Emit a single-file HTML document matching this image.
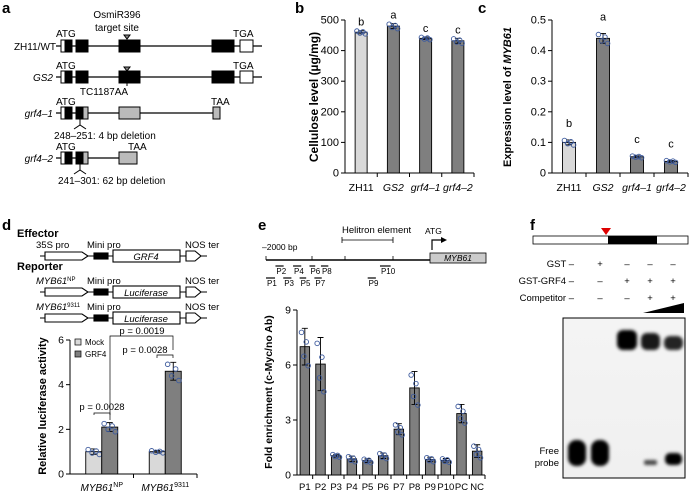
<!DOCTYPE html>
<html><head><meta charset="utf-8"><style>
body{margin:0;background:#fff}
svg{display:block;font-family:"Liberation Sans",sans-serif}
</style></head><body>
<svg id="s" width="689" height="495" viewBox="0 0 689 495">
<defs>
<linearGradient id="gel" x1="0" x2="0" y1="0" y2="1"><stop offset="0" stop-color="#f4f4f4"/><stop offset="1" stop-color="#f0f0f0"/></linearGradient>
<filter id="blur"><feGaussianBlur stdDeviation="1.6"/></filter>
</defs>
<g font-weight="bold" font-size="15">
<text x="2" y="13">a</text>
<text x="295" y="13">b</text>
<text x="478" y="13">c</text>
<text x="2" y="230">d</text>
<text x="258" y="230">e</text>
<text x="530" y="230">f</text>
</g>
<!-- panel a -->
<g font-size="10" stroke="#000">
<g stroke="none">
<text x="117" y="18" text-anchor="middle">OsmiR396</text>
<text x="117" y="31" text-anchor="middle">target site</text>
<text x="56" y="37">ATG</text><text x="233" y="37">TGA</text>
<text x="56" y="69">ATG</text><text x="233" y="69">TGA</text>
<text x="56" y="105">ATG</text><text x="211" y="105">TAA</text>
<text x="56" y="150">ATG</text><text x="128" y="150">TAA</text>
<text x="56" y="50" text-anchor="end">ZH11/WT</text>
<text x="53" y="81" text-anchor="end" font-style="italic">GS2</text>
<text x="53" y="117" text-anchor="end" font-style="italic">grf4–1</text>
<text x="53" y="162" text-anchor="end" font-style="italic">grf4–2</text>
<text x="104" y="95" text-anchor="middle">TC1187AA</text>
<text x="54" y="139">248–251: 4 bp deletion</text>
<text x="58" y="184">241–301: 62 bp deletion</text>
</g>
<g stroke-width="1.2">
<line x1="56" y1="46" x2="262" y2="46"/><line x1="56" y1="77" x2="262" y2="77"/>
<line x1="56" y1="113" x2="220" y2="113"/><line x1="56" y1="158" x2="137" y2="158"/>
</g>
<g stroke-width="1">
<rect x="61" y="40" width="4" height="12" fill="#fff"/><rect x="65" y="40" width="7" height="12"/><rect x="76" y="40" width="12" height="12"/><rect x="119" y="40" width="21" height="12"/><rect x="212" y="40" width="22" height="12"/><rect x="240" y="40" width="13" height="12" fill="#fff"/>
<rect x="61" y="71" width="4" height="12" fill="#fff"/><rect x="65" y="71" width="7" height="12"/><rect x="76" y="71" width="12" height="12"/><rect x="119" y="71" width="21" height="12"/><rect x="212" y="71" width="22" height="12"/><rect x="240" y="71" width="13" height="12" fill="#fff"/>
<rect x="61" y="107" width="4" height="12" fill="#fff"/><rect x="65" y="107" width="7" height="12"/><rect x="76" y="107" width="7" height="12"/><rect x="83" y="107" width="5" height="12" fill="#bbb"/><rect x="119" y="107" width="21" height="12" fill="#bbb"/><rect x="213" y="107" width="7" height="12" fill="#bbb"/>
<rect x="61" y="152" width="4" height="12" fill="#fff"/><rect x="65" y="152" width="7" height="12"/><rect x="76" y="152" width="7" height="12"/><rect x="83" y="152" width="5" height="12" fill="#bbb"/><rect x="119" y="152" width="18" height="12" fill="#bbb"/>
<polygon points="124,35 130,35 127,39" fill="#888"/><polygon points="124,67 130,67 127,71" fill="#888"/><line x1="127" y1="71" x2="127" y2="86"/>
<path d="M80,119 V125 M74,129 L80,125 L86,129 M80,164 V170 M74,174 L80,170 L86,174" fill="none"/>
</g></g>
<!-- panel d diagrams -->
<g font-size="9.5" stroke="#000">
<g stroke="none">
<text x="17" y="237" font-weight="bold" font-size="11">Effector</text>
<text x="36" y="248">35S pro</text><text x="87" y="248">Mini pro</text><text x="185" y="248">NOS ter</text>
<text x="17" y="270" font-weight="bold" font-size="11">Reporter</text>
<text x="36" y="284" font-style="italic">MYB61<tspan font-size="6" dy="-3" font-style="normal">NP</tspan></text><text x="87" y="284">Mini pro</text><text x="185" y="284">NOS ter</text>
<text x="36" y="310" font-style="italic">MYB61<tspan font-size="6" dy="-3" font-style="normal">9311</tspan></text><text x="87" y="310">Mini pro</text><text x="185" y="310">NOS ter</text>
</g>
<g stroke-width="1.1" fill="#fff">
<line x1="40" y1="256" x2="207" y2="256"/><line x1="40" y1="292" x2="207" y2="292"/><line x1="40" y1="318" x2="207" y2="318"/>
<polygon points="45,252 82,252 88,256 82,260 45,260"/><rect x="94" y="253" width="14" height="6" fill="#000"/><rect x="113" y="250" width="67" height="12"/><polygon points="186,251 195,251 201,256 195,261 186,261"/>
<polygon points="45,288 82,288 88,292 82,296 45,296"/><rect x="94" y="289" width="14" height="6" fill="#000"/><rect x="113" y="286" width="67" height="12"/><polygon points="186,287 195,287 201,292 195,297 186,297"/>
<polygon points="45,314 82,314 88,318 82,322 45,322"/><rect x="94" y="315" width="14" height="6" fill="#000"/><rect x="113" y="312" width="67" height="12"/><polygon points="186,313 195,313 201,318 195,323 186,323"/>
</g>
<g stroke="none" font-style="italic" text-anchor="middle"><text x="146" y="260">GRF4</text><text x="146" y="296">Luciferase</text><text x="146" y="322">Luciferase</text></g>
</g>
<!-- panel e diagram -->
<g font-size="8.5" stroke="#000">
<line x1="266" y1="260" x2="430" y2="260" stroke-width="1.5"/>
<path d="M266,260 v-4 M312,260 v-4 M345,260 v-4 M393,260 v-4 M342,240 H393 M342,237 v6 M393,237 v6" stroke-width="0.8" fill="none"/>
<path d="M432,250 V240 H442" fill="none" stroke-width="1.2"/><polygon points="441,237 447,240 441,243" stroke="none"/>
<rect x="430" y="253" width="56" height="10" fill="#ccc" stroke-width="0.8"/>
<g stroke="none"><text x="262" y="250">–2000 bp</text><text x="342" y="233" font-size="9.5">Helitron element</text><text x="425" y="234">ATG</text><text x="458" y="261" text-anchor="middle" font-style="italic">MYB61</text></g>
<g id="primers" stroke-width="1.2"></g>
</g>
<!-- panel f -->
<g font-size="9.5">
<rect x="533" y="236" width="155" height="8" fill="#fff" stroke="#000" stroke-width="0.8"/><rect x="608" y="236" width="49" height="8" fill="#000"/>
<polygon points="601,228 611,228 606,235" fill="#d00"/>
<text x="574" y="267" text-anchor="end">GST –</text><text x="574" y="284" text-anchor="end">GST-GRF4 –</text><text x="574" y="301" text-anchor="end">Competitor –</text>
<g text-anchor="middle">
<text x="600" y="267">+</text><text x="627" y="267">–</text><text x="650" y="267">–</text><text x="673" y="267">–</text>
<text x="600" y="284">–</text><text x="627" y="284">+</text><text x="650" y="284">+</text><text x="673" y="284">+</text>
<text x="600" y="301">–</text><text x="627" y="301">–</text><text x="650" y="301">+</text><text x="673" y="301">+</text>
</g>
<polygon points="643,313 684,303 684,313" fill="#000"/>
<rect x="563" y="318" width="122" height="160" fill="url(#gel)" stroke="#000" stroke-width="1"/>
<g filter="url(#blur)" fill="#000">
<rect x="568" y="440" width="18" height="26" rx="8"/><rect x="591" y="440" width="18" height="26" rx="8"/>
<rect x="617" y="330" width="20" height="20" rx="6"/><rect x="641" y="333" width="19" height="17" rx="6" opacity="0.9"/><rect x="664" y="336" width="19" height="14" rx="6" opacity="0.85"/>
<rect x="644" y="460" width="13" height="5" rx="2" opacity="0.7"/><rect x="665" y="453" width="17" height="12" rx="5"/>
</g>
<text x="559" y="454" text-anchor="end">Free</text><text x="559" y="466" text-anchor="end">probe</text>
</g>
<g id="charts"></g>
</svg>
<script>
// data
const bCats=["ZH11","GS2","grf4–1","grf4–2"];
const bVals=[460,480,440,432];
const bErr=[5,8,4,8];
const bLetters=["b","a","c","c"];
const bTicks=[0,100,200,300,400,500];
const cCats=["ZH11","GS2","grf4–1","grf4–2"];
const cVals=[0.10,0.44,0.053,0.038];
const cErr=[0.008,0.016,0.003,0.003];
const cLetters=["b","a","c","c"];
const cTicks=[0,0.1,0.2,0.3,0.4,0.5];
const dCats=["MYB61NP","MYB619311"];
const dMock=[1.0,1.0];
const dGrf4=[2.1,4.6];
const dMockErr=[0.12,0.05];
const dGrf4Err=[0.2,0.4];
const dTicks=[0,2,4,6];
const eCats=["P1","P2","P3","P4","P5","P6","P7","P8","P9","P10","PC","NC"];
const eVals=[7.0,6.05,1.05,0.88,0.78,1.05,2.5,4.75,0.85,0.8,3.35,1.3];
const eErr=[1.0,1.45,0.08,0.15,0.1,0.15,0.3,0.9,0.12,0.1,0.5,0.35];
const eTicks=[0,3,6,9];
const primerNames=["P1","P2","P3","P4","P5","P6","P7","P8","P9","P10"];
const primerStart=[-2000,-1885,-1790,-1670,-1590,-1470,-1410,-1330,-760,-610];
const primerEnd=[-1890,-1785,-1690,-1570,-1510,-1400,-1320,-1240,-660,-480];

const NS="http://www.w3.org/2000/svg";
const root=document.getElementById('charts');
function el(tag,attrs,parent,text){const e=document.createElementNS(NS,tag);for(const k in attrs)e.setAttribute(k,attrs[k]);if(text!==undefined)e.textContent=text;(parent||root).appendChild(e);return e;}

// primers
const pg=document.getElementById('primers');
const px=v=>266+(v+2000)/2000*164;
primerNames.forEach((n,i)=>{
  const row=i%2===0?278:266;
  const g=el('g',{},pg);
  
  
  el('line',{x1:px(primerStart[i]),x2:px(primerEnd[i]),y1:row,y2:row},g);
  el('text',{x:px(primerStart[i])+1,y:row+8,stroke:'none','font-size':8},g,n);
});

function yScale(v,max,y0,y1){return y0-(v/max)*(y0-y1);}
function axis(x0,x1,y0,y1,ticks,max,fmt,name,fs){
  const g=el('g',{stroke:'#000','stroke-width':1,'font-size':fs||10});
  
  
  el('line',{x1:x0,x2:x0,y1:y1,y2:y0},g);
  el('line',{x1:x0,x2:x1,y1:y0,y2:y0},g);
  ticks.forEach(t=>{const y=yScale(t,max,y0,y1);el('line',{x1:x0-4,x2:x0,y1:y,y2:y},g);el('text',{x:x0-6,y:y+3.5,'text-anchor':'end',stroke:'none'},g,fmt(t));});
  return g;
}
function dots(cx,v,err,max,y0,y1,w){
  const offs=[-0.35,-0.1,0.15,0.35];const dv=[0.6,-0.4,0.2,-0.8];
  offs.forEach((o,k)=>{el('circle',{cx:cx+o*w,cy:yScale(v+dv[k]*err*1.3,max,y0,y1),r:2.3,fill:'none',stroke:'#3f5c9e','stroke-width':0.9});});
}
function bar(cx,v,err,max,y0,y1,w,fill,name){
  const g=el('g',{});
  
  
  const y=yScale(v,max,y0,y1);
  el('rect',{x:cx-w/2,y:y,width:w,height:y0-y,fill:fill,stroke:'#000','stroke-width':0.9},g);
  const ya=yScale(v+err,max,y0,y1),yb=yScale(v-err,max,y0,y1);
  el('path',{d:`M${cx},${ya}V${yb}M${cx-3},${ya}H${cx+3}M${cx-3},${yb}H${cx+3}`,stroke:'#000','stroke-width':0.9,fill:'none'},g);
  dots(cx,v,err,max,y0,y1,w);
}
// panel b
(function(){
  const x0=345,x1=474,y0=173,y1=20,max=500;
  axis(x0,x1,y0,y1,bTicks,max,t=>t,'cellulose-axis',11);
  const step=(x1-x0)/bCats.length;
  bCats.forEach((c,i)=>{const cx=x0+step*(i+0.5);
    bar(cx,bVals[i],bErr[i],max,y0,y1,12,i===0?'#d9d9d9':'#7f7f7f','cellulose-bar-'+i);
    el('line',{x1:x0+step*(i+1),x2:x0+step*(i+1),y1:y0,y2:y0+4,stroke:'#000'});
    el('text',{x:cx,y:yScale(bVals[i]+bErr[i],max,y0,y1)-5,'text-anchor':'middle','font-size':11},undefined,bLetters[i]);
    el('text',{x:cx,y:191,'text-anchor':'middle','font-size':10.5,'font-style':i?'italic':'normal'},undefined,c);});
  const t=el('text',{transform:'translate(318,97) rotate(-90)','text-anchor':'middle','font-size':12,'font-weight':'bold'},undefined,'Cellulose level (µg/mg)');
  
})();
// panel c
(function(){
  const x0=552,x1=688,y0=173,y1=20,max=0.5;
  axis(x0,x1,y0,y1,cTicks,max,t=>t===0?'0':t.toFixed(1),'expression-axis',11);
  const step=(x1-x0)/cCats.length;
  cCats.forEach((c,i)=>{const cx=x0+step*(i+0.5);
    bar(cx,cVals[i],cErr[i],max,y0,y1,13,i===0?'#d9d9d9':'#7f7f7f','expression-bar-'+i);
    el('line',{x1:x0+step*(i+1),x2:x0+step*(i+1),y1:y0,y2:y0+4,stroke:'#000'});
    el('text',{x:cx,y:yScale(cVals[i]+cErr[i],max,y0,y1)-13,'text-anchor':'middle','font-size':11},undefined,cLetters[i]);
    el('text',{x:cx,y:191,'text-anchor':'middle','font-size':10.5,'font-style':i?'italic':'normal'},undefined,c);});
  const t=el('text',{transform:'translate(511,97) rotate(-90)','text-anchor':'middle','font-size':11,'font-weight':'bold'},undefined,'');
  t.innerHTML='Expression level of <tspan font-style="italic">MYB61</tspan>';
  
})();
// panel d
(function(){
  const x0=70,x1=197,y0=474,y1=340,max=6;
  axis(x0,x1,y0,y1,dTicks,max,t=>t,'luciferase-axis',10.5);
  const step=(x1-x0)/dCats.length;
  dCats.forEach((c,i)=>{const cx=x0+step*(i+0.5);
    bar(cx-8,dMock[i],dMockErr[i],max,y0,y1,16,'#d9d9d9','mock-bar-'+i);
    bar(cx+8,dGrf4[i],dGrf4Err[i],max,y0,y1,16,'#7f7f7f','grf4-bar-'+i);
    el('line',{x1:x0+step*(i+1),x2:x0+step*(i+1),y1:y0,y2:y0+4,stroke:'#000'});
    const t=el('text',{x:cx,y:491,'text-anchor':'middle','font-size':10,'font-style':'italic'},undefined,'');
    t.innerHTML='MYB61<tspan font-size="7" dy="-4" font-style="normal">'+c.slice(5)+'</tspan>';});
  const t=el('text',{transform:'translate(46,406) rotate(-90)','text-anchor':'middle','font-size':11,'font-weight':'bold'},undefined,'Relative luciferase activity');
  
  el('rect',{x:75,y:339,width:6,height:6,fill:'#d9d9d9',stroke:'#000','stroke-width':0.7});
  el('text',{x:85,y:345,'font-size':8},undefined,'Mock');
  el('rect',{x:75,y:351,width:6,height:6,fill:'#7f7f7f',stroke:'#000','stroke-width':0.7});
  el('text',{x:85,y:357,'font-size':8},undefined,'GRF4');
  const s={stroke:'#000','stroke-width':0.7,fill:'none'};
  el('path',Object.assign({d:'M94,415V413H110V415'},s));
  el('text',{x:102,y:410,'text-anchor':'middle','font-size':9.5},undefined,'p = 0.0028');
  el('path',Object.assign({d:'M157,358V355H173V358'},s));
  el('text',{x:145,y:353,'text-anchor':'middle','font-size':9.5},undefined,'p = 0.0028');
  el('path',Object.assign({d:'M110,420V336H173V350'},s));
  el('text',{x:142,y:334,'text-anchor':'middle','font-size':9.5},undefined,'p = 0.0019');
})();
// panel e
(function(){
  const x0=297,x1=485,y0=475,y1=310,max=9;
  axis(x0,x1,y0,y1,eTicks,max,t=>t,'chip-axis',10.5);
  const step=(x1-x0)/eCats.length;
  eCats.forEach((c,i)=>{const cx=x0+step*(i+0.5);
    bar(cx,eVals[i],eErr[i],max,y0,y1,9.5,'#7f7f7f','chip-bar-'+c.toLowerCase());
    el('line',{x1:x0+step*(i+1),x2:x0+step*(i+1),y1:y0,y2:y0+4,stroke:'#000'});
    el('text',{x:cx,y:490,'text-anchor':'middle','font-size':9.5},undefined,c);});
  const t=el('text',{transform:'translate(272,392) rotate(-90)','text-anchor':'middle','font-size':10.5,'font-weight':'bold'},undefined,'Fold enrichment (c-Myc/no Ab)');
  
})();
</script>
</body></html>
